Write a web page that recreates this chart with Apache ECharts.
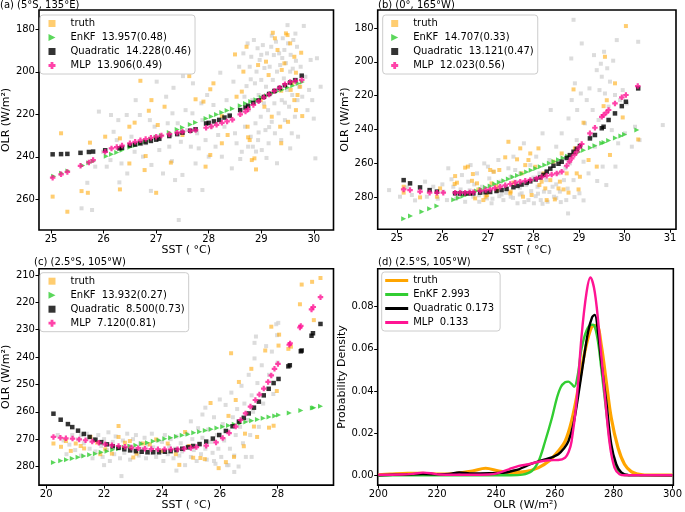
<!DOCTYPE html>
<html><head><meta charset="utf-8">
<script src="https://cdn.jsdelivr.net/npm/echarts@6/dist/echarts.min.js"></script>
<style>html,body{margin:0;padding:0;background:#fff}#c{width:685px;height:512px}</style>
</head><body><div id="c"></div><script>
// ---------- Panel (a) (5°S, 135°E) ----------
const aGrey = [[25.58,264.2],[25.78,265.0],[25.69,252.2],[25.84,244.6],[25.91,218.7],[25.99,237.6],[26.06,244.6],[26.13,241.5],[26.14,220.3],[26.19,228.2],[26.25,232.1],[26.28,222.7],[26.34,243.1],[26.44,220.3],[26.45,247.8],[26.53,230.5],[26.59,237.6],[26.61,213.3],[26.69,220.3],[26.72,234.0],[26.75,239.9],[26.81,233.6],[26.88,222.7],[26.91,243.8],[26.97,225.8],[27.0,230.5],[27.01,204.6],[27.06,236.8],[27.13,247.8],[27.19,211.7],[27.22,224.2],[27.25,235.2],[27.28,229.7],[27.31,219.5],[27.33,207.5],[27.36,250.9],[27.41,224.2],[27.43,269.7],[27.47,232.9],[27.5,248.5],[27.51,202.0],[27.56,218.0],[27.59,227.4],[27.63,255.6],[27.66,235.2],[27.69,219.5],[27.7,205.4],[27.75,243.1],[27.78,228.9],[27.81,236.0],[27.86,214.8],[27.88,222.7],[27.94,232.1],[27.97,210.9],[28.0,239.9],[28.05,225.8],[28.09,215.6],[28.13,235.2],[28.18,229.7],[28.22,200.4],[28.25,239.9],[28.3,225.8],[28.34,213.3],[28.39,221.1],[28.44,245.4],[28.47,204.6],[28.5,228.9],[28.53,233.6],[28.58,197.6],[28.59,218.0],[28.63,237.6],[28.66,191.3],[28.68,211.7],[28.69,225.8],[28.72,206.7],[28.74,186.6],[28.75,235.2],[28.76,218.0],[28.78,197.6],[28.8,230.5],[28.81,192.9],[28.83,213.3],[28.84,235.2],[28.86,185.0],[28.88,205.4],[28.89,224.2],[28.91,199.9],[28.93,188.9],[28.94,232.1],[28.95,210.9],[28.97,194.4],[28.99,221.1],[29.0,203.8],[29.01,236.8],[29.03,187.4],[29.05,214.8],[29.06,198.2],[29.08,227.4],[29.09,207.0],[29.11,191.3],[29.13,218.0],[29.14,233.6],[29.16,197.6],[29.18,210.1],[29.19,188.2],[29.2,223.5],[29.22,203.8],[29.24,192.1],[29.25,214.8],[29.26,228.9],[29.28,185.8],[29.3,199.9],[29.31,208.5],[29.33,219.5],[29.34,191.3],[29.36,196.8],[29.38,232.1],[29.39,213.3],[29.41,184.2],[29.43,203.1],[29.44,189.7],[29.45,222.7],[29.47,195.9],[29.49,208.5],[29.5,178.0],[29.51,186.6],[29.53,216.4],[29.55,199.9],[29.56,192.0],[29.58,228.9],[29.59,210.9],[29.61,185.0],[29.63,203.8],[29.64,221.1],[29.66,194.8],[29.68,188.2],[29.69,213.3],[29.72,207.0],[29.75,197.6],[29.78,211.7],[29.81,178.4],[29.84,202.3],[29.88,218.0],[29.91,208.5],[29.94,194.4],[29.97,213.3],[30.03,240.7],[30.06,193.6],[30.13,207.0],[27.88,255.6],[28.9,237.5],[29.1,240.5],[29.3,243.0],[28.6,241.0],[29.2,183.0],[29.4,193.5],[29.6,198.5],[29.0,192.0],[28.8,203.5],[29.15,226.0],[29.55,236.0],[29.7,230.5],[28.95,228.5],[29.45,214.5],[29.65,182.0],[30.0,222.0],[26.3,252.0],[26.9,256.0],[27.3,242.0]];
const aTruth = [[25.03,258.7],[25.19,228.9],[25.31,265.8],[25.58,256.1],[25.7,256.9],[25.74,233.3],[26.03,230.5],[26.31,255.3],[26.31,231.3],[26.49,243.1],[26.49,225.8],[26.59,223.9],[26.7,204.2],[26.78,246.2],[26.8,239.6],[26.86,218.3],[26.91,213.3],[27.0,256.9],[27.03,225.0],[27.16,216.4],[27.28,242.7],[27.5,229.7],[27.63,202.0],[27.75,212.9],[27.9,214.0],[27.94,244.6],[28.03,239.1],[28.03,208.2],[28.09,205.4],[28.25,220.8],[28.25,233.6],[28.36,229.7],[28.5,191.8],[28.53,211.7],[28.63,209.3],[28.66,199.9],[28.72,188.2],[28.74,225.8],[28.75,230.8],[28.78,232.1],[28.82,241.5],[28.87,240.7],[28.94,196.8],[28.99,213.3],[29.06,216.4],[29.09,195.2],[29.14,201.5],[29.2,221.1],[29.22,181.6],[29.26,184.2],[29.31,189.7],[29.36,225.8],[29.38,208.9],[29.39,199.1],[29.44,196.0],[29.47,181.9],[29.5,182.7],[29.51,223.5],[29.55,186.6],[29.56,208.5],[29.59,205.4],[29.63,192.9],[29.66,200.4],[29.66,218.0],[29.69,210.9],[29.74,207.0],[29.76,191.0],[29.78,220.8],[29.63,213.3],[28.9,245.9],[29.38,233.6]];
const aEnKF = [[25.05,249.1],[25.2,247.7],[25.32,246.6],[25.6,244.0],[25.72,242.8],[25.8,242.1],[26.05,239.7],[26.15,238.8],[26.25,237.9],[26.35,236.9],[26.5,235.5],[26.6,234.6],[26.7,233.7],[26.8,232.7],[26.9,231.8],[27.0,230.8],[27.1,229.9],[27.25,228.5],[27.4,227.1],[27.5,226.2],[27.65,224.8],[27.75,223.8],[27.95,222.0],[28.05,221.0],[28.15,220.1],[28.25,219.1],[28.35,218.2],[28.45,217.3],[28.6,215.9],[28.7,214.9],[28.8,214.0],[28.9,213.1],[29.0,212.1],[29.1,211.2],[29.2,210.2],[29.3,209.3],[29.4,208.4],[29.5,207.4],[29.6,206.5],[29.7,205.5],[29.78,204.8]];
const aQuad = [[25.03,238.8],[25.19,238.7],[25.31,238.6],[25.56,238.1],[25.72,237.7],[25.8,237.5],[26.03,236.9],[26.3,236.0],[26.35,235.7],[26.5,234.6],[26.6,234.2],[26.7,233.6],[26.8,233.1],[26.9,232.5],[27.0,231.9],[27.06,231.5],[27.25,230.2],[27.4,229.3],[27.5,228.6],[27.65,227.7],[27.75,227.0],[27.95,224.3],[28.0,224.0],[28.1,223.3],[28.2,222.6],[28.3,221.5],[28.4,220.6],[28.6,218.0],[28.7,216.8],[28.75,216.0],[28.85,214.6],[28.95,213.4],[29.05,211.8],[29.15,210.4],[29.25,209.0],[29.35,207.6],[29.45,206.3],[29.55,205.0],[29.65,203.9],[29.77,201.8]];
const aMLP = [[25.03,249.8],[25.19,248.2],[25.31,247.1],[25.56,244.2],[25.72,242.6],[25.8,241.5],[26.03,237.6],[26.15,236.0],[26.25,235.4],[26.35,234.7],[26.5,233.6],[26.6,232.9],[26.7,232.2],[26.8,231.6],[26.9,231.0],[27.0,230.5],[27.1,230.0],[27.25,229.3],[27.4,228.6],[27.5,228.2],[27.65,227.7],[27.75,227.4],[27.95,226.3],[28.05,225.7],[28.15,224.9],[28.25,224.0],[28.35,223.3],[28.45,222.5],[28.6,220.0],[28.7,218.7],[28.75,217.6],[28.85,215.6],[28.95,213.8],[29.05,212.0],[29.15,210.6],[29.25,209.0],[29.35,207.5],[29.45,205.8],[29.55,204.8],[29.65,204.3],[29.77,203.8]];

// ---------- Panel (b) (0°, 165°W) ----------
const bGrey = [[24.83,275.9],[25.07,279.8],[25.22,274.3],[25.33,278.8],[25.62,270.9],[25.66,279.8],[25.8,273.9],[26.02,276.8],[26.1,281.8],[26.13,263.0],[26.24,273.9],[26.35,279.8],[26.43,267.0],[26.5,282.8],[26.57,270.9],[26.62,261.1],[26.68,279.8],[26.76,266.0],[26.81,282.8],[26.87,273.9],[26.92,260.1],[26.98,280.8],[27.03,269.0],[27.08,283.7],[27.12,265.0],[27.18,276.8],[27.23,258.1],[27.28,270.9],[27.34,281.8],[27.39,273.9],[27.45,263.0],[27.5,279.8],[27.56,256.1],[27.6,270.9],[27.65,283.7],[27.71,266.0],[27.74,277.8],[27.79,248.2],[27.84,272.9],[27.89,281.8],[27.93,261.1],[27.96,270.0],[28.01,283.7],[28.06,256.1],[28.09,273.9],[28.13,266.0],[28.16,281.8],[28.2,242.3],[28.23,276.8],[28.28,270.0],[28.31,282.8],[28.35,258.1],[28.38,228.5],[28.42,273.9],[28.45,279.8],[28.5,250.2],[28.55,266.0],[28.58,276.8],[28.62,242.3],[28.67,270.0],[28.72,281.8],[28.76,289.7],[28.77,233.5],[28.8,260.1],[28.83,198.0],[28.84,222.6],[28.88,270.0],[28.91,212.7],[28.95,246.3],[28.96,228.5],[29.01,277.8],[29.04,218.7],[29.06,189.1],[29.1,259.1],[29.13,236.4],[29.17,222.6],[29.21,266.0],[29.23,215.7],[29.26,244.3],[29.3,228.5],[29.33,196.0],[29.35,250.2],[29.39,204.9],[29.43,234.4],[29.45,216.7],[29.48,201.1],[29.5,208.8],[29.52,262.0],[29.55,194.0],[29.57,218.7],[29.6,272.9],[29.62,203.8],[29.65,226.5],[29.68,211.7],[29.72,240.4],[29.75,199.3],[29.79,219.6],[29.83,187.1],[29.86,248.2],[29.9,222.6],[29.96,216.7],[30.01,242.3],[30.05,224.6],[30.16,250.2],[30.23,238.4],[30.3,188.1],[30.33,246.3],[30.84,237.4],[28.88,175.1],[26.4,275.5],[26.9,277.0],[27.3,278.5],[27.7,274.5],[28.1,278.0],[28.5,272.5],[26.0,272.5],[27.0,262.0],[27.6,264.0],[26.3,281.0],[26.6,276.0],[26.8,279.0],[27.0,276.5],[27.1,281.0],[27.25,279.5],[27.4,277.5],[27.55,280.5],[27.7,278.5],[27.8,283.0],[27.95,276.5],[28.05,279.5],[28.2,284.0],[28.35,277.0],[28.5,280.5],[28.6,283.0],[28.75,275.0],[28.9,280.0],[29.1,282.0],[25.4,282.0],[25.9,281.0],[26.2,269.5],[26.7,272.5],[27.5,268.0],[28.0,268.5],[28.3,264.5],[28.7,263.0],[29.4,270.5],[29.8,262.0]];
const bTruth = [[25.15,277.4],[25.15,273.9],[25.51,280.2],[25.88,279.8],[25.95,274.9],[26.28,267.6],[26.32,271.5],[26.5,262.6],[26.56,262.0],[26.67,266.4],[26.72,280.8],[26.79,275.5],[26.9,281.8],[26.98,278.8],[27.08,271.9],[27.19,273.5],[27.25,264.0],[27.38,256.5],[27.45,247.3],[27.5,276.8],[27.56,271.5],[27.71,251.2],[27.74,266.0],[27.77,279.8],[27.82,261.1],[27.89,258.1],[27.93,254.2],[27.96,278.8],[28.04,262.1],[28.11,251.2],[28.13,272.9],[28.18,270.9],[28.22,266.0],[28.26,274.9],[28.29,281.8],[28.37,270.0],[28.44,259.1],[28.47,281.4],[28.55,274.9],[28.58,270.9],[28.62,254.2],[28.66,275.5],[28.73,266.0],[28.77,277.4],[28.88,216.3],[28.91,251.2],[28.95,266.0],[28.99,275.5],[29.02,268.0],[29.1,236.0],[29.21,258.1],[29.39,262.0],[29.54,226.2],[29.57,197.0],[29.61,222.7],[29.68,255.1],[29.79,212.7],[29.96,232.9],[30.03,178.8],[30.3,245.9],[26.27,272.3],[26.65,270.4],[26.76,271.9],[27.05,264.0],[27.13,265.0],[27.64,257.7],[26.95,279.8],[27.2,275.9],[27.49,277.8]];
const bEnKF = [[25.15,292.8],[25.3,291.3],[25.55,288.7],[25.72,287.0],[25.88,285.3],[26.25,281.6],[26.35,280.6],[26.45,279.5],[26.55,278.5],[26.65,277.5],[26.75,276.4],[26.85,275.4],[26.95,274.4],[27.05,273.4],[27.15,272.3],[27.25,271.3],[27.35,270.3],[27.45,269.3],[27.55,268.2],[27.65,267.2],[27.75,266.2],[27.85,265.2],[27.95,264.1],[28.05,263.1],[28.15,262.1],[28.25,261.0],[28.35,260.0],[28.45,259.0],[28.55,258.0],[28.65,256.9],[28.75,255.9],[28.9,254.4],[29.0,253.3],[29.1,252.3],[29.25,250.8],[29.35,249.7],[29.5,248.2],[29.55,247.7],[29.65,246.6],[29.8,245.1],[29.92,243.9],[30.0,243.0],[30.27,240.3]];
const bQuad = [[25.15,270.0],[25.29,271.9],[25.51,274.3],[25.72,275.9],[25.88,276.8],[26.28,277.8],[26.39,277.9],[26.5,277.9],[26.6,277.9],[26.68,277.8],[26.83,277.4],[26.95,277.2],[27.05,277.0],[27.19,276.4],[27.3,275.9],[27.41,275.2],[27.56,274.2],[27.65,273.4],[27.74,272.6],[27.85,271.6],[27.93,270.7],[28.05,269.6],[28.15,268.4],[28.22,266.9],[28.29,265.0],[28.37,263.2],[28.44,261.5],[28.55,260.3],[28.62,259.1],[28.73,256.9],[28.8,255.2],[28.88,253.2],[28.95,251.5],[29.02,249.8],[29.24,245.3],[29.35,243.3],[29.5,239.3],[29.54,238.4],[29.65,234.4],[29.79,230.5],[29.94,226.2],[30.03,223.6],[30.3,215.7]];
const bMLP = [[25.15,275.5],[25.29,275.9],[25.51,276.8],[25.72,277.4],[25.88,277.4],[26.02,277.4],[26.28,277.4],[26.39,277.4],[26.5,277.4],[26.6,277.3],[26.68,277.1],[26.83,276.3],[26.95,275.9],[27.05,275.5],[27.15,274.7],[27.27,273.9],[27.38,273.1],[27.49,272.3],[27.6,271.5],[27.71,270.9],[27.82,270.4],[27.93,269.9],[28.07,269.0],[28.18,268.2],[28.29,267.4],[28.4,266.7],[28.51,266.0],[28.62,265.0],[28.73,261.5],[28.79,259.0],[28.84,257.1],[28.9,255.0],[28.95,253.2],[29.0,250.8],[29.06,248.6],[29.24,242.3],[29.35,239.0],[29.5,232.5],[29.54,231.5],[29.6,230.0],[29.65,228.5],[29.79,224.6],[29.94,221.0],[30.03,219.6],[30.29,214.3]];

// ---------- Panel (c) (2.5°S, 105°W) ----------
const cGrey = [[20.6,270.5],[20.8,272.0],[20.9,268.5],[21.0,274.0],[21.1,270.0],[21.2,276.0],[21.3,271.5],[21.4,268.0],[21.5,273.5],[21.6,277.0],[21.65,270.0],[21.7,274.5],[21.8,268.5],[21.9,272.5],[21.95,276.5],[22.0,270.0],[22.1,274.0],[22.15,267.5],[22.2,278.0],[22.3,271.0],[22.35,275.5],[22.4,269.0],[22.5,273.0],[22.55,277.0],[22.6,283.5],[22.65,270.5],[22.7,275.0],[22.8,268.0],[22.85,272.5],[22.9,277.5],[23.0,270.0],[23.05,274.0],[23.1,268.5],[23.2,276.0],[23.25,271.5],[23.3,273.5],[23.4,269.5],[23.45,277.0],[23.5,272.0],[23.6,275.0],[23.65,268.0],[23.7,273.0],[23.8,276.5],[23.85,270.5],[23.9,274.0],[24.0,271.0],[24.05,278.0],[24.1,268.5],[24.2,275.5],[24.25,272.5],[24.3,270.0],[24.4,277.0],[24.45,273.5],[24.5,269.0],[24.6,276.0],[24.65,271.5],[24.7,274.5],[24.8,279.5],[24.85,268.0],[24.9,272.5],[25.0,276.5],[25.05,270.0],[25.1,274.0],[25.2,278.0],[25.25,266.0],[25.3,272.0],[25.35,275.5],[25.4,269.5],[25.5,258.5],[25.5,273.5],[25.55,277.5],[25.6,266.5],[25.7,271.0],[25.75,275.0],[25.8,262.0],[25.85,279.0],[25.9,268.5],[25.95,273.5],[26.0,255.5],[26.05,276.5],[26.1,264.5],[26.15,270.5],[26.2,257.5],[26.25,279.5],[26.3,267.0],[26.35,273.5],[26.4,253.0],[26.45,262.0],[26.5,276.0],[26.55,268.5],[26.6,259.0],[26.65,280.0],[26.7,265.5],[26.75,250.5],[26.8,271.5],[26.85,257.0],[26.9,276.5],[26.95,263.0],[27.0,246.5],[27.05,268.5],[27.1,254.0],[27.15,260.0],[27.2,240.5],[27.25,232.5],[27.3,249.5],[27.35,265.5],[27.45,243.0],[27.5,257.0],[27.6,236.0],[27.7,246.5],[27.8,238.0],[27.85,253.5],[27.95,228.0],[28.0,242.0],[27.1,276.5],[26.5,282.0],[26.3,279.5],[25.8,278.0],[22.0,279.5],[21.2,268.5],[20.4,268.5],[20.7,275.5],[24.5,281.5],[25.0,263.5],[25.4,261.0],[27.2,234.8],[27.98,232.0],[28.02,227.5]];
const cTruth = [[20.25,271.6],[20.51,272.8],[20.68,270.7],[20.85,274.3],[21.02,271.6],[21.19,272.5],[21.31,273.4],[21.53,269.2],[21.76,271.3],[21.87,275.5],[22.04,273.7],[22.27,275.3],[22.5,265.2],[22.5,269.2],[22.72,271.3],[22.89,270.7],[23.01,276.7],[23.12,275.3],[23.35,271.6],[23.58,271.9],[23.8,270.1],[24.03,274.3],[24.2,271.6],[24.48,275.5],[24.6,279.4],[24.8,267.4],[24.94,272.5],[25.08,276.8],[25.33,276.9],[25.48,277.3],[25.68,256.8],[25.96,280.6],[26.21,278.4],[26.39,238.6],[26.49,276.5],[26.3,261.5],[26.55,255.7],[26.66,249.1],[26.83,272.6],[26.87,268.0],[27.09,244.3],[27.18,265.4],[27.29,269.2],[27.57,237.6],[27.78,228.9],[27.86,265.1],[27.97,252.4],[28.03,235.8],[28.37,237.0],[28.46,236.2],[28.77,220.7],[28.83,213.5],[29.19,212.5],[29.25,226.5],[29.48,211.1],[27.7,265.8],[28.05,231.8]];
const cEnKF = [[20.25,278.5],[20.5,277.9],[20.7,277.5],[20.9,277.1],[21.1,276.6],[21.3,276.2],[21.5,275.7],[21.7,275.3],[21.9,274.8],[22.1,274.4],[22.3,273.9],[22.5,273.5],[22.7,273.0],[22.9,272.6],[23.1,272.2],[23.3,271.7],[23.5,271.3],[23.7,270.8],[23.9,270.4],[24.1,269.9],[24.3,269.5],[24.5,269.0],[24.7,268.6],[24.9,268.2],[25.1,267.7],[25.3,267.3],[25.5,266.8],[25.7,266.4],[25.9,265.9],[26.1,265.5],[26.3,265.0],[26.5,264.6],[26.7,264.2],[26.9,263.7],[27.1,263.3],[27.3,262.8],[27.5,262.4],[27.7,261.9],[27.9,261.5],[28.03,261.2],[28.4,260.4],[28.8,259.5],[29.2,258.6],[29.25,258.5],[29.48,258.0]];
const cQuad = [[20.25,260.7],[20.5,262.9],[20.75,264.5],[20.9,265.6],[21.1,266.9],[21.3,268.1],[21.5,269.2],[21.7,270.2],[21.9,271.1],[22.1,271.9],[22.3,272.6],[22.5,273.2],[22.7,273.7],[22.9,274.1],[23.1,274.4],[23.3,274.6],[23.5,274.8],[23.7,274.8],[23.9,274.8],[24.1,274.6],[24.3,274.4],[24.5,274.0],[24.7,273.5],[24.9,273.0],[25.08,272.5],[25.3,271.8],[25.53,270.9],[25.76,269.8],[25.98,268.5],[26.21,267.0],[26.44,265.3],[26.66,263.6],[26.83,262.2],[27.0,260.6],[27.18,258.5],[27.35,256.3],[27.52,254.0],[27.69,251.6],[27.86,249.5],[28.03,248.0],[28.37,243.4],[28.42,243.0],[28.8,237.9],[28.83,237.6],[29.17,232.2],[29.22,231.3],[29.48,227.9]];
const cMLP = [[20.25,269.2],[20.49,269.5],[20.68,269.7],[20.91,269.8],[21.14,270.1],[21.36,270.4],[21.59,270.9],[21.82,271.3],[22.04,271.9],[22.27,272.2],[22.5,272.5],[22.72,272.8],[22.95,273.1],[23.18,273.3],[23.41,273.5],[23.63,273.6],[23.86,273.7],[24.09,273.7],[24.31,273.7],[24.54,273.7],[24.77,273.5],[25.0,273.2],[25.19,272.9],[25.53,272.4],[25.87,271.2],[26.1,269.6],[26.32,267.8],[26.55,265.4],[26.72,263.0],[26.89,260.6],[27.06,258.1],[27.23,255.7],[27.37,253.7],[27.52,251.5],[27.67,249.1],[27.78,246.7],[27.89,244.3],[28.01,242.5],[28.4,235.5],[28.43,235.0],[28.77,229.2],[28.8,228.6],[29.17,222.6],[29.23,221.7],[29.48,218.1]];

// ---------- Panel (d) PDFs (2.5°S, 105°W) ----------
const dTruth = [[200,0.0002],[204,0.0005],[210,0.0009],[215,0.0009],[221,0.0005],[226,0.0008],[232,0.002],[236.5,0.0033],[241,0.002],[245.5,0.0013],[250,0.0017],[254.5,0.0036],[258,0.0067],[261.2,0.0115],[263.5,0.016],[265.7,0.0256],[268,0.0413],[270.2,0.0585],[272.5,0.0703],[274.2,0.0711],[275.8,0.0617],[277.5,0.0444],[279.2,0.0271],[281.5,0.013],[283.7,0.0052],[286,0.0017],[288.2,0.0005],[290.5,0.0001],[300,0]];
const dEnKF = [[200,0],[245,0],[249,0.0003],[252.2,0.002],[254.5,0.0067],[256.7,0.016],[259,0.027],[260.7,0.0366],[262.1,0.042],[263.5,0.0441],[264.6,0.0444],[265.7,0.0433],[266.6,0.0419],[267.8,0.0475],[269.1,0.0601],[270.8,0.0687],[272.5,0.0714],[273.4,0.0711],[274.7,0.0632],[275.8,0.0507],[277.5,0.0303],[279.2,0.0115],[280.9,0.0028],[282.6,0.0005],[285,0],[300,0]];
const dQuad = [[200,0],[205,0.0002],[209.6,0.0003],[215.2,0.0005],[220.8,0.0004],[224.2,0.0006],[227.5,0.0013],[232,0.0008],[237.6,0.0009],[241,0.0011],[243.3,0.0013],[245.5,0.002],[247.8,0.0028],[250,0.0042],[252.2,0.0055],[256.7,0.0075],[259,0.0085],[261.2,0.0099],[263,0.0125],[264.6,0.016],[266.3,0.024],[268,0.038],[269.7,0.0538],[271.3,0.0679],[272.7,0.075],[273.6,0.0761],[274.7,0.0679],[275.8,0.0538],[277.5,0.035],[279.2,0.0146],[280.9,0.0052],[282.6,0.0013],[285,0.0001],[300,0]];
const dMLP = [[200,0.0002],[208,0.0003],[212,0.0007],[215.2,0.0012],[218,0.0009],[220.8,0.0003],[226,0.0002],[232,0.0002],[237.6,0.0003],[241,0.0011],[244.4,0.0028],[247.8,0.0044],[251.1,0.0052],[254.5,0.0064],[257.9,0.0071],[261.2,0.0072],[263.5,0.0083],[264.7,0.011],[265.7,0.016],[267.4,0.035],[269.1,0.066],[270.8,0.0868],[272.1,0.0938],[273.6,0.0868],[275.3,0.0648],[277,0.0381],[278.7,0.0146],[280.3,0.0036],[282,0.0005],[284,0],[300,0]];

// ---------- labels / ticks ----------
const titles = ['(a) (5°S, 135°E)', '(b) (0°, 165°W)', '(c) (2.5°S, 105°W)', '(d) (2.5°S, 105°W)'];
const legA = ['EnKF  13.957(0.48)', 'Quadratic  14.228(0.46)', 'MLP  13.906(0.49)'];
const legB = ['EnKF  14.707(0.33)', 'Quadratic  13.121(0.47)', 'MLP  12.023(0.56)'];
const legC = ['EnKF  13.932(0.27)', 'Quadratic  8.500(0.73)', 'MLP  7.120(0.81)'];
const legD = ['EnKF 2.993', 'Quadratic 0.173', 'MLP  0.133'];
const xTicksA = [25, 26, 27, 28, 29, 30];
const yTicksA = [180, 200, 220, 240, 260];
const xTicksB = [25, 26, 27, 28, 29, 30, 31];
const yTicksB = [180, 200, 220, 240, 260, 280];
const xTicksC = [20, 22, 24, 26, 28];
const yTicksC = [210, 220, 230, 240, 250, 260, 270, 280];
const xTicksD = [200, 220, 240, 260, 280, 300];
const yTicksD = [0, 0.02, 0.04, 0.06, 0.08];

const FONT = 'DejaVu Sans';
const C_ORANGE = 'rgba(255,165,0,0.7)', C_GREY = '#d3d3d3', C_GREEN = '#32cd32', C_PINK = '#ff1493';
const SQ = 'path://M0,0H10V10H0Z';
const TRI = 'path://M0,0L10,5L0,10Z';
const PLUS = 'path://M3,0H7V3H10V7H7V10H3V7H0V3H3Z';

const grids = [
  {left: 34.5, top: 10, width: 299, height: 220},
  {left: 377.7, top: 10, width: 298.3, height: 219.3},
  {left: 34.5, top: 268.7, width: 299, height: 218.3},
  {left: 377.7, top: 268.7, width: 298.3, height: 218.3}
].map(g => Object.assign(g, {show: true, borderColor: '#000', borderWidth: 1.6, backgroundColor: '#fff', containLabel: false}));

function xAx(gi, min, max, ticks, name) {
  return {gridIndex: gi, type: 'value', min, max, name, nameLocation: 'middle', nameGap: 12,
    nameTextStyle: {fontSize: 11, color: '#000', fontFamily: FONT},
    axisLine: {show: false, onZero: false}, splitLine: {show: false},
    axisTick: {show: true, length: 3.5, lineStyle: {color: '#000', width: 1}, customValues: ticks},
    axisLabel: {customValues: ticks, fontSize: 10, color: '#000', fontFamily: FONT, margin: 4}};
}
function yAx(gi, min, max, ticks, name, inverse, gap, fmt) {
  return {gridIndex: gi, type: 'value', min, max, inverse, name, nameLocation: 'middle', nameGap: gap,
    nameTextStyle: {fontSize: 11, color: '#000', fontFamily: FONT},
    axisLine: {show: false, onZero: false}, splitLine: {show: false},
    axisTick: {show: true, length: 3.5, lineStyle: {color: '#000', width: 1}, customValues: ticks},
    axisLabel: {customValues: ticks, fontSize: 10, color: '#000', fontFamily: FONT, margin: 4, formatter: fmt}};
}
const xAxes = [
  xAx(0, 24.77, 30.375, xTicksA, 'SST ( °C)'),
  xAx(1, 24.58, 31.13, xTicksB, 'SST ( °C)'),
  xAx(2, 19.75, 29.93, xTicksC, 'SST ( °C)'),
  xAx(3, 199.8, 300.3, xTicksD, 'OLR (W/m²)')
];
const yAxes = [
  yAx(0, 170.9, 274.4, yTicksA, 'OLR (W/m²)', true, 20.5),
  yAx(1, 169.3, 299.1, yTicksB, 'OLR (W/m²)', true, 21.7),
  yAx(2, 207.7, 286.8, yTicksC, 'OLR (W/m²)', true, 20.5),
  yAx(3, -0.0047, 0.098, yTicksD, 'Probability Density', false, 22.4, v => v.toFixed(2))
];

const series = [];
function scatterPanel(gi, tag, grey, truth, enkf, quad, mlp, names) {
  const base = {type: 'scatter', xAxisIndex: gi, yAxisIndex: gi, silent: true, animation: false};
  series.push(Object.assign({}, base, {name: 'grey_' + tag, data: grey, symbol: SQ, symbolSize: 4, itemStyle: {color: C_GREY}, z: 1}));
  series.push(Object.assign({}, base, {name: 'truth_' + tag, data: truth, symbol: SQ, symbolSize: 4, itemStyle: {color: C_ORANGE}, z: 2}));
  series.push(Object.assign({}, base, {name: names[0], data: enkf, symbol: TRI, symbolSize: 5, itemStyle: {color: C_GREEN}, z: 3}));
  series.push(Object.assign({}, base, {name: names[1], data: quad, symbol: SQ, symbolSize: 4.5, itemStyle: {color: '#000'}, z: 4}));
  series.push(Object.assign({}, base, {name: names[2], data: mlp, symbol: PLUS, symbolSize: 5.5, itemStyle: {color: C_PINK}, z: 5}));
}
scatterPanel(0, 'a', aGrey, aTruth, aEnKF, aQuad, aMLP, legA);
scatterPanel(1, 'b', bGrey, bTruth, bEnKF, bQuad, bMLP, legB);
scatterPanel(2, 'c', cGrey, cTruth, cEnKF, cQuad, cMLP, legC);
[[ 'truth_d', dTruth, '#ffa500', 3.2], [legD[0], dEnKF, C_GREEN, 2.4], [legD[1], dQuad, '#000', 2.4], [legD[2], dMLP, C_PINK, 2.4]].forEach((s, i) => {
  series.push({type: 'line', name: s[0], xAxisIndex: 3, yAxisIndex: 3, data: s[1], smooth: 0.35, showSymbol: false, symbol: 'none',
    lineStyle: {color: s[2], width: s[3]}, itemStyle: {color: s[2]}, silent: true, animation: false, z: 2 + i});
});

function scatterLegend(left, top, tag, names) {
  return {orient: 'vertical', left, top, padding: [2, 4, 2, 8.5], itemGap: 1, itemWidth: 7, itemHeight: 7,
    backgroundColor: '#fff', borderColor: '#cccccc', borderWidth: 1, borderRadius: 3, selectedMode: false,
    textStyle: {fontSize: 10, fontFamily: FONT, color: '#000', padding: [0, 0, 0, 10], lineHeight: 13},
    formatter: n => n.replace(/_[a-d]$/, ''),
    data: [{name: 'truth_' + tag, icon: SQ}, {name: names[0], icon: TRI}, {name: names[1], icon: SQ}, {name: names[2], icon: PLUS}]};
}
const LINEICON = 'rect';
const legends = [
  scatterLegend(40, 15, 'a', legA),
  scatterLegend(382.7, 15, 'b', legB),
  scatterLegend(40, 272.7, 'c', legC),
  {orient: 'vertical', left: 381.7, top: 272, padding: [2, 6, 2, 3.5], itemGap: 1, itemWidth: 23, itemHeight: 3,
    backgroundColor: '#fff', borderColor: '#cccccc', borderWidth: 1, borderRadius: 3, selectedMode: false,
    textStyle: {fontSize: 10, fontFamily: FONT, color: '#000', lineHeight: 13},
    formatter: n => n.replace(/_[a-d]$/, ''),
    data: [{name: 'truth_d', icon: LINEICON}, {name: legD[0], icon: LINEICON}, {name: legD[1], icon: LINEICON}, {name: legD[2], icon: LINEICON}]}
];

const titlePos = [[0, 0], [378, 0], [34, 257], [378, 257]];
const title = titles.map((t, i) => ({text: t, left: titlePos[i][0], top: titlePos[i][1], padding: 0,
  textStyle: {fontSize: 10, fontWeight: 'normal', fontFamily: FONT, color: '#000'}}));

const chart = echarts.init(document.getElementById('c'), null, {renderer: 'canvas'});
chart.setOption({backgroundColor: '#fff', animation: false, title, grid: grids, xAxis: xAxes, yAxis: yAxes, legend: legends, series});
</script></body></html>
